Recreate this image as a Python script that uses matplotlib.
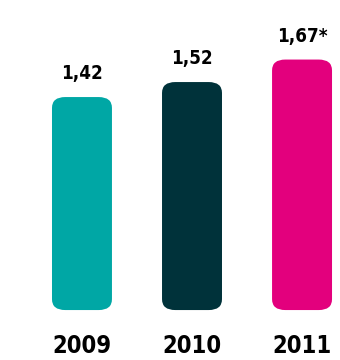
import matplotlib.pyplot as plt
from matplotlib.patches import FancyBboxPatch

# Data
years = ["2009", "2010", "2011"]
values = [1.42, 1.52, 1.67]
labels = ["1,42", "1,52", "1,67*"]
colors = ["#00A7A5", "#00323A", "#E3007D"]

fig = plt.figure(figsize=(3.4, 3.6), dpi=100)
ax = fig.add_axes([0, 0, 1, 1])

x = range(len(values))
bars = ax.bar(x, values, width=0.545, color=colors)

# swap plain rectangles for rounded brush-like shapes
for rect, c in zip(bars, colors):
    rect.set_visible(False)
    box = FancyBboxPatch((rect.get_x(), rect.get_y()), rect.get_width(), rect.get_height(),
                         boxstyle="round,pad=0,rounding_size=0.12",
                         mutation_aspect=0.6, facecolor=c, edgecolor="none")
    ax.add_patch(box)

font = dict(family="DejaVu Sans", fontstretch="condensed", fontweight="bold", color="#000000")
for i, (v, lab) in enumerate(zip(values, labels)):
    ax.text(i, v + 0.155, lab, ha="center", va="center", fontsize=13.5, **font)
    ax.text(i, -0.24, years[i], ha="center", va="center", fontsize=17, **font)

ax.set_xlim(-0.745, 2.345)
ax.set_ylim(-0.333, 2.067)
ax.axis("off")

fig.savefig("out.png", dpi=100)
